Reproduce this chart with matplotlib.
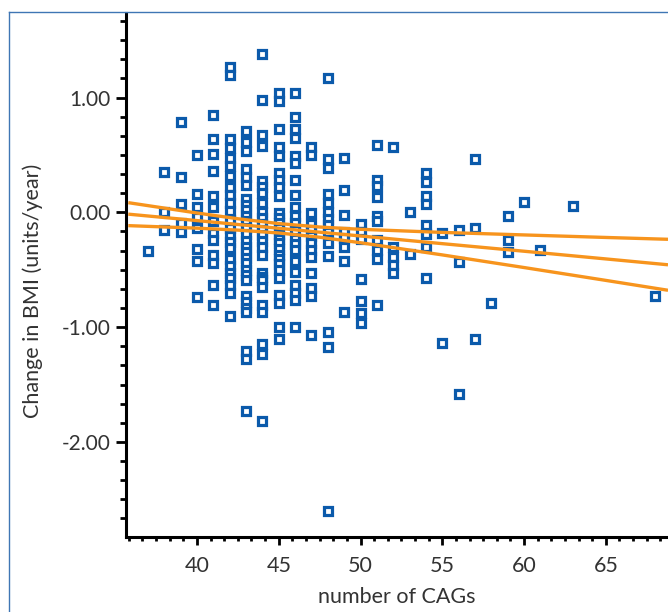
import numpy as np
import matplotlib
matplotlib.use("Agg")
import matplotlib.pyplot as plt
from matplotlib.ticker import MultipleLocator, FormatStrFormatter
from matplotlib.lines import Line2D

plt.rcParams['font.family'] = ['Lato', 'DejaVu Sans']

# CAG repeat length (x columns) and the BMI change values read at each column
cag_values = [37, 38, 39, 40, 41, 42, 43, 44, 45, 46, 47, 48, 49, 50,
              51, 52, 53, 54, 55, 56, 57, 58, 59, 60, 61, 63, 68]
bmi_by_cag = [
    [-0.34],
    [0.35, 0.00, -0.15],
    [0.79, 0.31, 0.07, -0.09, -0.17],
    [0.50, 0.16, 0.05, -0.04, -0.14, -0.32, -0.42, -0.74],
    [0.85, 0.64, 0.51, 0.36, 0.14, 0.05, -0.08, -0.18, -0.24, -0.37, -0.44, -0.63, -0.81],
    [1.27, 1.20, 0.64, 0.56, 0.475, 0.40, 0.32, 0.22, 0.15, 0.08, 0.01, -0.07, -0.14,
     -0.21, -0.26, -0.31, -0.41, -0.47, -0.53, -0.57, -0.63, -0.70, -0.90],
    [0.71, 0.61, 0.53, 0.38, 0.31, 0.24, 0.12, 0.06, 0.02, -0.03, -0.08, -0.14, -0.19,
     -0.25, -0.30, -0.35, -0.40, -0.44, -0.50, -0.545, -0.59, -0.73, -0.78, -0.835,
     -0.87, -1.21, -1.28, -1.73],
    [1.38, 0.98, 0.67, 0.58, 0.27, 0.22, 0.165, 0.08, 0.00, -0.05, -0.10, -0.15, -0.20,
     -0.25, -0.30, -0.37, -0.53, -0.56, -0.59, -0.65, -0.81, -0.87, -1.15, -1.23, -1.82],
    [1.04, 0.97, 0.73, 0.565, 0.49, 0.34, 0.28, 0.22, 0.14, -0.01, -0.05, -0.09, -0.14,
     -0.19, -0.23, -0.27, -0.32, -0.37, -0.41, -0.45, -0.50, -0.575, -0.72, -0.79,
     -1.00, -1.10],
    [1.04, 0.83, 0.73, 0.65, 0.49, 0.43, 0.28, 0.15, 0.05, -0.03, -0.09, -0.15, -0.23,
     -0.28, -0.33, -0.42, -0.52, -0.63, -0.70, -0.76, -1.00],
    [0.57, 0.50, -0.01, -0.10, -0.15, -0.21, -0.27, -0.33, -0.39, -0.525, -0.66, -0.73, -1.07],
    [1.17, 0.46, 0.39, 0.16, 0.08, 0.005, -0.06, -0.11, -0.17, -0.27, -0.38, -1.04, -1.17, -2.60],
    [0.47, 0.19, -0.02, -0.17, -0.225, -0.30, -0.42, -0.87],
    [-0.10, -0.17, -0.235, -0.58, -0.77, -0.88, -0.965],
    [0.59, 0.28, 0.23, 0.135, -0.03, -0.08, -0.24, -0.33, -0.41, -0.81],
    [0.57, -0.30, -0.39, -0.46, -0.525],
    [0.00, -0.36],
    [0.345, 0.26, 0.14, 0.07, -0.11, -0.19, -0.30, -0.575],
    [-0.18, -1.14],
    [-0.15, -0.435, -1.58],
    [0.46, -0.135, -1.10],
    [-0.79],
    [-0.03, -0.245, -0.35],
    [0.09],
    [-0.33],
    [0.055],
    [-0.73],
]

# regression line and its confidence band
fit_x     = [35.8, 40.0, 42.5, 45.0, 47.5, 50.0, 55.0, 60.0, 65.0, 68.8]
fit_mid   = [-0.016, -0.072, -0.106, -0.139, -0.173, -0.206, -0.273, -0.339, -0.406, -0.457]
fit_upper = [0.084, -0.006, -0.056, -0.098, -0.128, -0.148, -0.175, -0.197, -0.219, -0.235]
fit_lower = [-0.116, -0.138, -0.155, -0.180, -0.217, -0.265, -0.371, -0.481, -0.593, -0.679]

x_pts = np.concatenate([[c] * len(v) for c, v in zip(cag_values, bmi_by_cag)])
y_pts = np.concatenate(bmi_by_cag)

W, H = 668, 612
fig = plt.figure(figsize=(W / 100, H / 100), dpi=100)
ax = fig.add_axes([126 / W, 75 / H, 542 / W, 524 / H])

blue = '#0b5aab'
orange = '#f7941d'
text_col = '#333333'

ax.plot(x_pts, y_pts, linestyle='none', marker='s', markersize=5.4,
        markerfacecolor='white', markeredgecolor=blue, markeredgewidth=2.3, zorder=2)
for yy in (fit_upper, fit_mid, fit_lower):
    ax.plot(fit_x, yy, color=orange, lw=2.4, solid_capstyle='butt', zorder=3)

ax.set_xlim(35.66, 68.8)
ax.set_ylim(-2.828, 1.736)

ax.xaxis.set_major_locator(MultipleLocator(5))
ax.xaxis.set_minor_locator(MultipleLocator(5 / 6))
ax.yaxis.set_major_locator(MultipleLocator(1))
ax.yaxis.set_minor_locator(MultipleLocator(1 / 6))
ax.yaxis.set_major_formatter(FormatStrFormatter('%.2f'))

for side in ('top', 'right'):
    ax.spines[side].set_visible(False)
for side in ('left', 'bottom'):
    ax.spines[side].set_linewidth(2.2)
    ax.spines[side].set_color('black')

ax.tick_params(axis='y', which='major', length=7.2, width=2.0, pad=4, labelsize=15, labelcolor=text_col)
ax.tick_params(axis='y', which='minor', length=4.5, width=2.0)
ax.tick_params(axis='x', which='major', length=5.5, width=2.0, pad=8, labelsize=15.5, labelcolor=text_col)
ax.tick_params(axis='x', which='minor', length=3.2, width=2.0)

ax.set_xlabel('number of CAGs', fontsize=15.5, color=text_col, labelpad=8)
ax.set_ylabel('Change in BMI (units/year)', fontsize=15.5, color=text_col)
ax.yaxis.set_label_coords(-0.153, 0.47)

# thin frame around the panel (cut off at right and bottom)
frame_col = '#3f76b4'
fx, fy = 9 / W, 1 - 12 / H
fig.add_artist(Line2D([fx, 1.0], [fy, fy], transform=fig.transFigure, color=frame_col, lw=1.0))
fig.add_artist(Line2D([fx, fx], [0.0, fy], transform=fig.transFigure, color=frame_col, lw=1.0))

fig.savefig('out.png', dpi=100)
